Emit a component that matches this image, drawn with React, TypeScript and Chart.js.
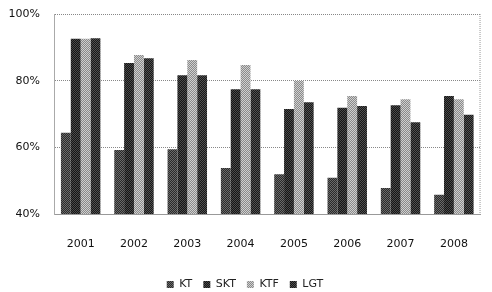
import React, { useEffect, useRef } from "react";
import { Chart, registerables } from "chart.js";

Chart.register(...registerables);

const categories = ["2001", "2002", "2003", "2004", "2005", "2006", "2007", "2008"];
const seriesNames = ["KT", "SKT", "KTF", "LGT"];
const ktValues = [64.4, 59.2, 59.4, 53.8, 51.9, 50.9, 47.8, 45.8];
const sktValues = [92.6, 85.3, 81.6, 77.4, 71.5, 71.9, 72.6, 75.4];
const ktfValues = [92.6, 87.7, 86.2, 84.7, 79.9, 75.4, 74.4, 74.4];
const lgtValues = [92.7, 86.7, 81.6, 77.4, 73.5, 72.4, 67.5, 69.8];
const yTicks = [40, 60, 80, 100];

function makePattern(a: string, b: string): CanvasPattern | string {
  const c = document.createElement("canvas");
  c.width = 4;
  c.height = 4;
  const ctx = c.getContext("2d");
  if (!ctx) return a;
  ctx.fillStyle = a;
  ctx.fillRect(0, 0, 4, 4);
  ctx.fillStyle = b;
  for (let y = 0; y < 4; y++) {
    for (let x = 0; x < 4; x++) {
      if ((x + y) % 2 === 0) ctx.fillRect(x, y, 1, 1);
    }
  }
  const p = ctx.createPattern(c, "repeat");
  return p || a;
}

export default function App() {
  const ref = useRef<HTMLCanvasElement>(null);
  useEffect(() => {
    document.body.style.margin = "0";
    const canvas = ref.current;
    if (!canvas) return;
    const fills = [
      makePattern("#2a2a2a", "#6a6a6a"),
      makePattern("#151515", "#4a4a4a"),
      makePattern("#8a8a8a", "#cfcfcf"),
      makePattern("#181818", "#505050"),
    ];
    const data = [ktValues, sktValues, ktfValues, lgtValues];
    const chart = new Chart(canvas, {
      type: "bar",
      data: {
        labels: categories,
        datasets: seriesNames.map((name, i) => ({
          label: name,
          data: data[i],
          backgroundColor: fills[i] as any,
          borderWidth: 0,
          barPercentage: 1,
          categoryPercentage: 0.74,
        })),
      },
      options: {
        animation: false,
        responsive: false,
        maintainAspectRatio: false,
        layout: { padding: { top: 14, right: 2, left: 0, bottom: 0 } },
        plugins: {
          legend: {
            position: "bottom",
            labels: {
              boxWidth: 7,
              boxHeight: 7,
              padding: 11,
              color: "#222",
              font: { family: "DejaVu Sans", size: 11 },
            },
          },
          tooltip: { enabled: false },
        },
        scales: {
          x: {
            grid: { display: false, drawTicks: false },
            border: { display: true, color: "#999", width: 1 },
            afterFit: (scale: any) => {
              scale.height = 54;
            },
            ticks: {
              color: "#111",
              padding: 24,
              font: { family: "DejaVu Sans", size: 11 },
            },
          },
          y: {
            min: 40,
            max: 100,
            afterFit: (scale: any) => {
              scale.width = 54;
              scale.paddingTop = 6;
              scale.paddingBottom = 0;
            },
            afterBuildTicks: (scale: any) => {
              scale.ticks = yTicks.map((v) => ({ value: v }));
            },
            grid: {
              color: "#888",
              lineWidth: 1,
              drawTicks: false,
            },
            border: { display: true, color: "#aaa", dash: [1, 1] },
            ticks: {
              color: "#111",
              padding: 14,
              font: { family: "DejaVu Sans", size: 11 },
              callback: (v: any) => v + "%",
            },
          },
        },
      },
      plugins: [
        {
          id: "legendHeight",
          beforeLayout: (c: any) => {
            const lg = c.legend;
            if (lg && !lg.__patched) {
              const orig = lg.fit.bind(lg);
              lg.fit = function () {
                orig();
                this.height = 24;
              };
              lg.__patched = true;
            }
          },
        },
        {
          id: "frame",
          afterDraw: (c: any) => {
            const { ctx, chartArea } = c;
            ctx.save();
            ctx.strokeStyle = "#999";
            ctx.setLineDash([1, 1]);
            ctx.lineWidth = 1;
            ctx.beginPath();
            ctx.moveTo(chartArea.right - 0.5, chartArea.top);
            ctx.lineTo(chartArea.right - 0.5, chartArea.bottom);
            ctx.stroke();
            ctx.restore();
          },
        },
      ],
    } as any);
    return () => chart.destroy();
  }, []);
  return <canvas ref={ref} width={492} height={292} style={{ display: "block" }} />;
}
